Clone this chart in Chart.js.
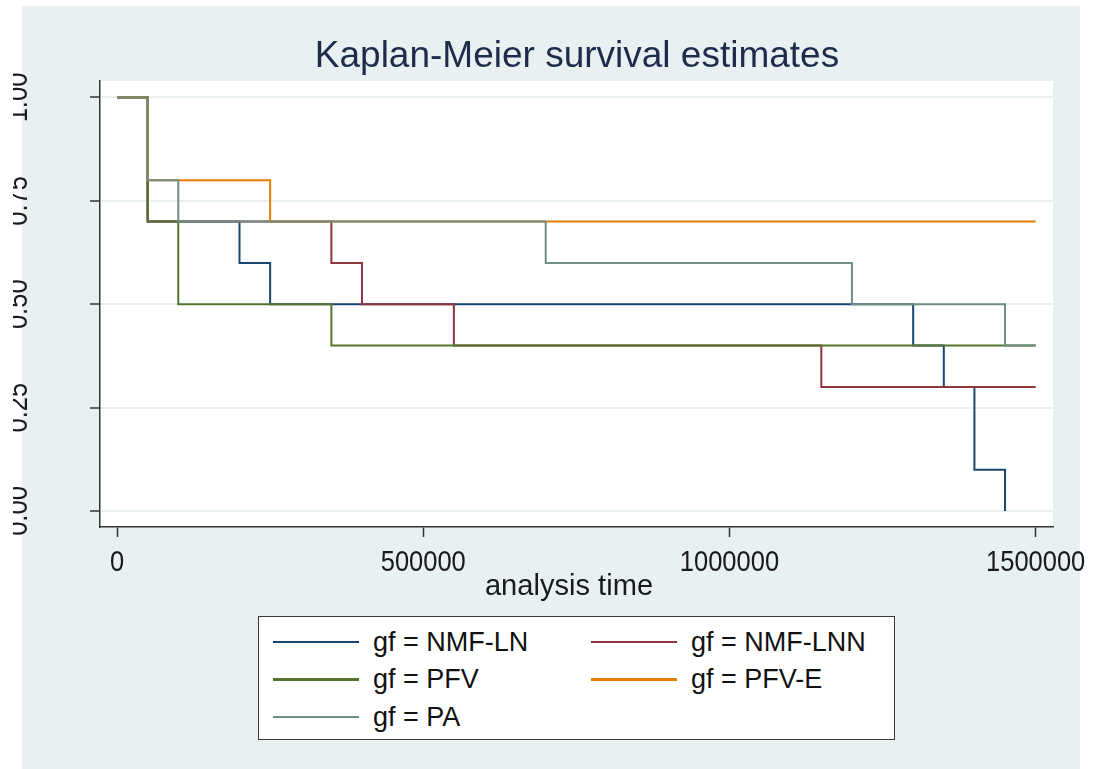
<!DOCTYPE html>
<html>
<head>
<meta charset="utf-8">
<script src="https://cdn.jsdelivr.net/npm/chart.js@4.4.1/dist/chart.umd.min.js"></script>
<style>
  body { margin: 0; background: #fff; }
  #wrap { position: relative; width: 1097px; height: 769px; }
  #legend {
    position: absolute; left: 258px; top: 616px; width: 637px; height: 124px;
    box-sizing: border-box; border: 1.5px solid #3a3a3a; background: #fff;
    font-family: 'Liberation Sans', Arial, sans-serif; font-size: 27px; color: #111;
  }
  .item { position: absolute; height: 30px; display: flex; align-items: center; white-space: nowrap; }
  .swatch { width: 86px; height: 2.5px; margin-right: 14px; }
</style>
</head>
<body>
<div id="wrap">
  <canvas id="chart" width="1097" height="769"></canvas>
  <div id="legend"></div>
</div>
<script>
const ctx = document.querySelector('#chart')

// groups and colours (Stata s2color)
const groups = ['gf = NMF-LN', 'gf = NMF-LNN', 'gf = PFV', 'gf = PFV-E', 'gf = PA']
const colors = ['#1a476f', '#90353b', '#55752f', '#e37e00', '#6e8e84']

// KM step points: time, survival after that time
const lnTimes = [0, 50000, 200000, 250000, 1300000, 1350000, 1400000, 1450000]
const lnSurv = [1, 0.7, 0.6, 0.5, 0.4, 0.3, 0.1, 0]

const lnnTimes = [0, 50000, 350000, 400000, 550000, 1150000, 1500000]
const lnnSurv = [1, 0.7, 0.6, 0.5, 0.4, 0.3, 0.3]

const pfvTimes = [0, 50000, 100000, 350000, 1500000]
const pfvSurv = [1, 0.7, 0.5, 0.4, 0.4]

const pfveTimes = [0, 50000, 250000, 1500000]
const pfveSurv = [1, 0.8, 0.7, 0.7]

const paTimes = [0, 50000, 100000, 700000, 1200000, 1450000, 1500000]
const paSurv = [1, 0.8, 0.7, 0.6, 0.5, 0.4, 0.4]

const xTicks = [0, 500000, 1000000, 1500000]
const yTicks = [0, 0.25, 0.5, 0.75, 1]
const yTickLabels = ['0.00', '0.25', '0.50', '0.75', '1.00']

const times = [lnTimes, lnnTimes, pfvTimes, pfveTimes, paTimes]
const survs = [lnSurv, lnnSurv, pfvSurv, pfveSurv, paSurv]

const bluish = '#e9f0f2'
const font = '"Liberation Sans", Arial, sans-serif'

const datasets = groups.map((g, i) => {
    return {
        label: g,
        data: times[i].map((t, j) => ({ x: t, y: survs[i][j] })),
        borderColor: colors[i],
        borderWidth: 2,
        pointRadius: 0,
        stepped: true,
        fill: false,
        order: groups.length - 1 - i // later groups on top, like Stata
    }
})

// legend as html
const legend = document.querySelector('#legend')
groups.forEach((g, i) => {
    const el = document.createElement('div')
    el.className = 'item'
    el.style.left = (i % 2 === 0 ? 14 : 332) + 'px'
    el.style.top = (10 + Math.floor(i / 2) * 37.5) + 'px'
    el.innerHTML = '<span class="swatch" style="background:' + colors[i] + '"></span><span>' + g + '</span>'
    legend.appendChild(el)
})

function squeezedText(c, text, x, y, size, sx) {
    c.save()
    c.translate(x, y)
    c.scale(sx, 1)
    c.font = size + 'px ' + font
    c.fillText(text, 0, 0)
    c.restore()
}

const backdrop = {
    id: 'backdrop',
    beforeDraw(chart) {
        const c = chart.ctx
        const a = chart.chartArea
        c.save()
        c.fillStyle = '#fff'
        c.fillRect(0, 0, chart.width, chart.height)
        c.fillStyle = bluish
        c.fillRect(22, 6, 1058, 763)
        c.fillStyle = '#fff'
        c.fillRect(a.left, a.top, a.right - a.left, a.bottom - a.top)
        c.restore()
    },
    afterDraw(chart) {
        const c = chart.ctx
        const xs = chart.scales.x
        const ys = chart.scales.y
        c.save()
        c.fillStyle = '#1e2c4c'
        c.font = '37px ' + font
        c.textAlign = 'center'
        c.textBaseline = 'middle'
        c.fillText('Kaplan-Meier survival estimates', 577, 57)

        c.fillStyle = '#1a1a1a'
        xTicks.forEach(v => {
            squeezedText(c, String(v), xs.getPixelForValue(v), 563, 30, 0.85)
        })
        squeezedText(c, 'analysis time', 569, 587, 30, 0.97)

        // rotated y labels, cut at the left like the source
        c.beginPath()
        c.rect(13, 0, 200, chart.height)
        c.clip()
        c.textBaseline = 'alphabetic'
        yTicks.forEach((v, i) => {
            c.save()
            c.translate(27, ys.getPixelForValue(v))
            c.rotate(-Math.PI / 2)
            c.scale(0.85, 1)
            c.font = '30px ' + font
            c.fillText(yTickLabels[i], 0, 0)
            c.restore()
        })
        c.restore()
    }
}

const config = {
    type: 'line',
    data: { datasets: datasets },
    options: {
        responsive: false,
        animation: false,
        layout: { padding: { left: 0, top: 81, right: 44, bottom: 0 } },
        scales: {
            x: {
                type: 'linear',
                min: -27800,
                max: 1528300,
                afterBuildTicks: s => { s.ticks = xTicks.map(v => ({ value: v })) },
                afterFit: s => { s.height = 242 },
                ticks: { display: false },
                grid: {
                    drawOnChartArea: false,
                    drawTicks: true,
                    tickLength: 10,
                    tickColor: '#333',
                    tickWidth: 1.5
                },
                border: { display: true, color: '#333', width: 1.5 }
            },
            y: {
                type: 'linear',
                min: -0.0387,
                max: 1.0399,
                afterBuildTicks: s => { s.ticks = yTicks.map(v => ({ value: v })) },
                afterFit: s => { s.width = 100 },
                ticks: { display: false },
                grid: {
                    color: bluish,
                    lineWidth: 2,
                    drawTicks: true,
                    tickLength: 10,
                    tickColor: '#333',
                    tickWidth: 1.5
                },
                border: { display: true, color: '#333', width: 1.5 }
            }
        },
        plugins: {
            legend: { display: false },
            tooltip: { enabled: false }
        }
    },
    plugins: [backdrop]
}

new Chart(ctx, config)
</script>
</body>
</html>
